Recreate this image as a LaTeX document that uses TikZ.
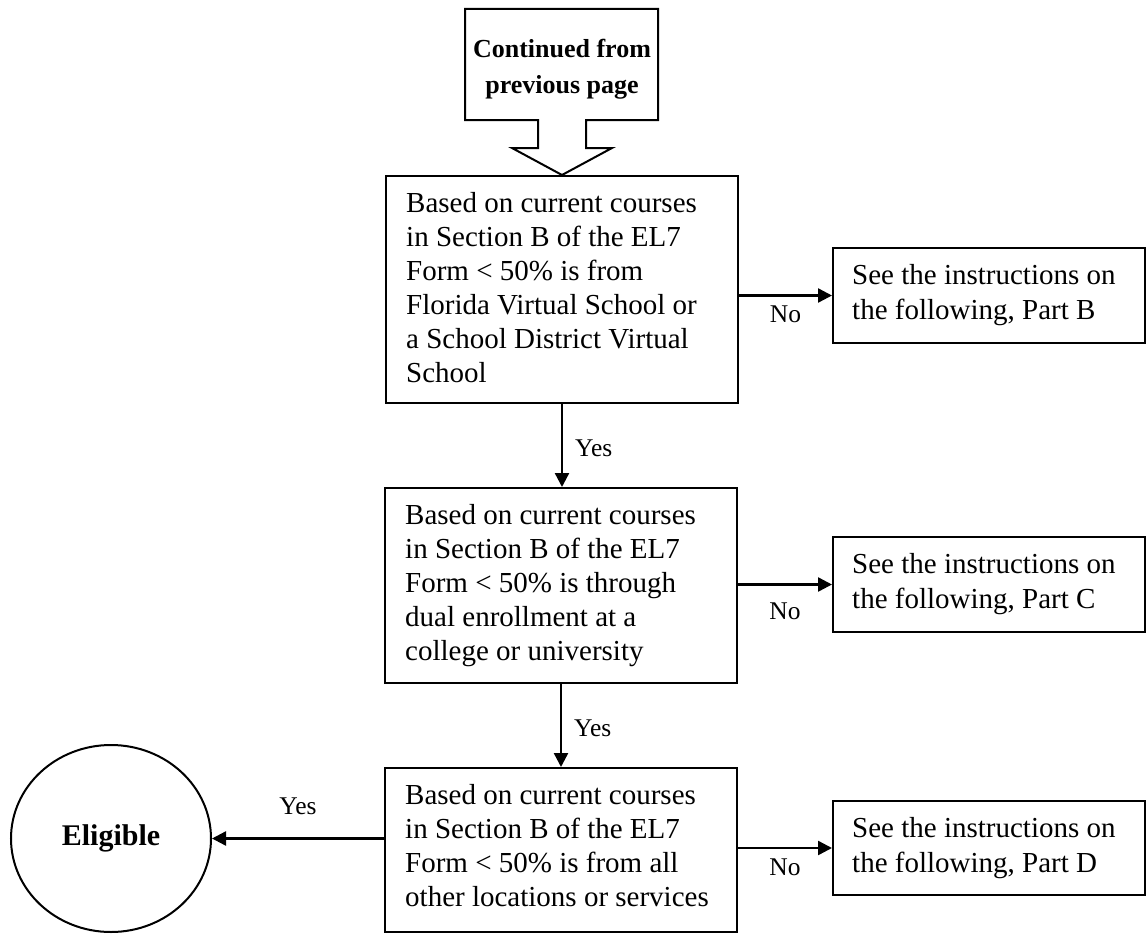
\documentclass[tikz,border=0pt]{standalone}
\usepackage{fontspec}
\setmainfont{Liberation Serif}
\usetikzlibrary{arrows.meta,shapes.geometric,calc}
\begin{document}
\begin{tikzpicture}[x=1pt,y=-1pt,
  box/.style={draw, line width=2pt, inner sep=0pt},
  btext/.style={anchor=north west, inner sep=0pt, align=left, font=\fontsize{29}{34}\selectfont},
  rtext/.style={anchor=north west, inner sep=0pt, align=left, font=\fontsize{29}{35.5}\selectfont},
  lbl/.style={inner sep=0pt, font=\fontsize{25.5}{30}\selectfont},
  arr/.style={line width=2.4pt, -{Triangle[length=14pt,width=14pt]}},
]
\useasboundingbox (0,0) rectangle (1146,934);

% banner with a downward arrow
\draw[line width=2pt, line join=miter]
  (465,9) -- (658,9) -- (658,120) -- (586,120) -- (586,148) -- (612,148)
  -- (562,175) -- (512,148) -- (538,148) -- (538,120) -- (465,120) -- cycle;
\node[anchor=north, inner sep=0pt, align=center,
      font=\fontsize{26}{36}\selectfont\bfseries] (cont) at (562,37)
  {\rule{0pt}{20pt}Continued from\\previous page};

% decision boxes
\node[box, minimum width=352pt, minimum height=227pt] (q1) at (562,289.5) {};
\node[box, minimum width=352pt, minimum height=195pt] (q2) at (561,585.5) {};
\node[box, minimum width=352pt, minimum height=164pt] (q3) at (561,850) {};

\node[btext] (t1) at ($(q1.north west)+(21,12)$)
  {\rule{0pt}{25pt}Based on current courses\\in Section B of the EL7\\Form < 50\% is from\\Florida Virtual School or\\a School District Virtual\\School};
\node[btext] (t2) at ($(q2.north west)+(21,12)$)
  {\rule{0pt}{25pt}Based on current courses\\in Section B of the EL7\\Form < 50\% is through\\dual enrollment at a\\college or university};
\node[btext] (t3) at ($(q3.north west)+(21,12)$)
  {\rule{0pt}{25pt}Based on current courses\\in Section B of the EL7\\Form < 50\% is from all\\other locations or services};

% outcome boxes
\node[box, minimum width=312pt, minimum height=95pt] (pb) at (989,295.5) {};
\node[box, minimum width=312pt, minimum height=95pt] (pc) at (989,584.5) {};
\node[box, minimum width=312pt, minimum height=94pt] (pd) at (989,848) {};

\node[rtext] (tb) at ($(pb.north west)+(20,12)$)
  {\rule{0pt}{25pt}See the instructions on\\the following, Part B};
\node[rtext] (tc) at ($(pc.north west)+(20,12)$)
  {\rule{0pt}{25pt}See the instructions on\\the following, Part C};
\node[rtext] (td) at ($(pd.north west)+(20,12)$)
  {\rule{0pt}{25pt}See the instructions on\\the following, Part D};

% terminal
\node[draw, ellipse, line width=2pt, minimum width=200pt, minimum height=187pt,
      inner sep=0pt, font=\fontsize{30}{36}\selectfont\bfseries] (el) at (111,838.5) {Eligible};

% connectors
\draw[arr] (q1.south) -- node[lbl, anchor=base west, xshift=12pt, yshift=-10.5pt] {Yes} (q1.south |- q2.north);
\draw[arr] (q2.south) -- node[lbl, anchor=base west, xshift=12pt, yshift=-10.5pt] {Yes} (q2.south |- q3.north);
\draw[arr] (pb.west -| q1.east) -- node[lbl, anchor=base, yshift=-27pt] {No} (pb.west);
\draw[arr] (pc.west -| q2.east) -- node[lbl, anchor=base, yshift=-35pt] {No} (pc.west);
\draw[arr] (pd.west -| q3.east) -- node[lbl, anchor=base, yshift=-27pt] {No} (pd.west);
\draw[arr] (el.east -| q3.west) -- node[lbl, anchor=base, yshift=24pt] {Yes} (el.east);
\end{tikzpicture}
\end{document}
